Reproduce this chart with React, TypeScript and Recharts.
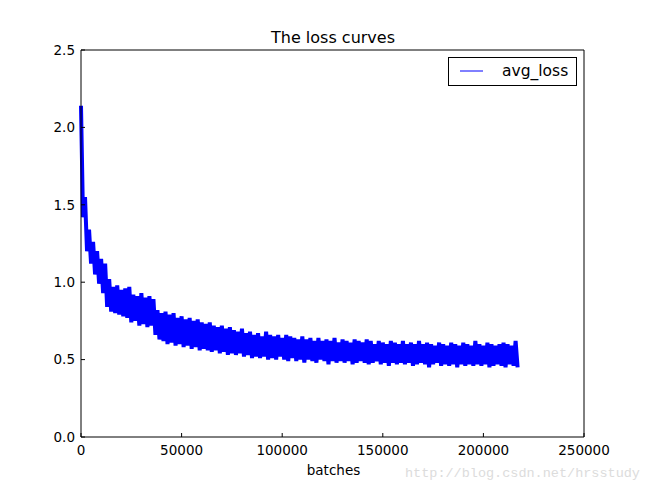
import { LineChart, Line, XAxis, YAxis } from "recharts";

const BATCH_STEP = 1000;
const avgLoss = [
  2.14, 1.42, 1.55, 1.2, 1.34, 1.12, 1.26, 1.05, 1.2, 0.99,
  1.15, 0.93, 1.12, 0.84, 1.02, 0.81, 0.97, 0.8, 0.98, 0.79,
  0.95, 0.78, 0.96, 0.77, 0.97, 0.74, 0.92, 0.75, 0.91, 0.72,
  0.93, 0.73, 0.9, 0.71, 0.91, 0.72, 0.89, 0.66, 0.82, 0.63,
  0.8, 0.62, 0.81, 0.6, 0.79, 0.61, 0.8, 0.59, 0.77, 0.6,
  0.78, 0.58, 0.76, 0.59, 0.77, 0.57, 0.75, 0.58, 0.76, 0.56,
  0.74, 0.57, 0.73, 0.56, 0.74, 0.55, 0.72, 0.56, 0.71, 0.54,
  0.72, 0.55, 0.7, 0.53, 0.71, 0.54, 0.69, 0.53, 0.68, 0.54,
  0.7, 0.52, 0.67, 0.53, 0.68, 0.51, 0.66, 0.52, 0.67, 0.51,
  0.65, 0.52, 0.68, 0.5, 0.66, 0.51, 0.65, 0.5, 0.66, 0.52,
  0.64, 0.5, 0.66, 0.49, 0.65, 0.51, 0.64, 0.49, 0.63, 0.5,
  0.65, 0.48, 0.63, 0.5, 0.64, 0.49, 0.62, 0.48, 0.64, 0.5,
  0.62, 0.49, 0.63, 0.47, 0.62, 0.49, 0.64, 0.48, 0.61, 0.49,
  0.63, 0.48, 0.62, 0.49, 0.61, 0.47, 0.63, 0.48, 0.62, 0.49,
  0.61, 0.48, 0.63, 0.47, 0.62, 0.48, 0.6, 0.49, 0.62, 0.47,
  0.61, 0.48, 0.6, 0.46, 0.62, 0.48, 0.61, 0.47, 0.6, 0.48,
  0.62, 0.47, 0.6, 0.48, 0.61, 0.46, 0.6, 0.47, 0.62, 0.48,
  0.6, 0.47, 0.61, 0.45, 0.6, 0.47, 0.59, 0.48, 0.61, 0.46,
  0.6, 0.47, 0.59, 0.46, 0.61, 0.47, 0.6, 0.45, 0.59, 0.47,
  0.61, 0.46, 0.6, 0.47, 0.59, 0.46, 0.62, 0.47, 0.6, 0.46,
  0.59, 0.47, 0.61, 0.45, 0.6, 0.46, 0.59, 0.47, 0.6, 0.46,
  0.61, 0.45, 0.6, 0.47, 0.59, 0.46, 0.62, 0.45,
];
const xTicks = [0, 50000, 100000, 150000, 200000, 250000];
const yTicks = [0, 0.5, 1.0, 1.5, 2.0, 2.5];

const data = avgLoss.map((v, i) => ({ batch: i * BATCH_STEP, avg_loss: v }));

const FONT = "'DejaVu Sans', sans-serif";
const tickStyle = { fill: "#000", fontSize: 13.5, fontFamily: FONT };

export default function App() {
  return (
    <div style={{ position: "absolute", left: 0, top: 0, width: 650, height: 488, background: "#fff" }}>
      <LineChart
        width={650}
        height={488}
        data={data}
        margin={{ top: 49, right: 65, bottom: 21, left: 41 }}
      >
        <XAxis
          xAxisId="b"
          dataKey="batch"
          type="number"
          domain={[0, 250000]}
          ticks={xTicks}
          interval={0}
          height={30}
          stroke="#000"
          tickSize={-4}
          tickMargin={12}
          tick={tickStyle}
        />
        <XAxis
          xAxisId="t"
          dataKey="batch"
          orientation="top"
          type="number"
          domain={[0, 250000]}
          ticks={xTicks}
          interval={0}
          height={1}
          stroke="#000"
          tickSize={-4}
          tick={false}
        />
        <YAxis
          yAxisId="l"
          type="number"
          domain={[0, 2.5]}
          ticks={yTicks}
          interval={0}
          width={40}
          stroke="#000"
          tickSize={-4}
          tickMargin={10}
          tick={tickStyle}
          tickFormatter={(v) => Number(v).toFixed(1)}
        />
        <YAxis
          yAxisId="r"
          orientation="right"
          type="number"
          domain={[0, 2.5]}
          ticks={yTicks}
          interval={0}
          width={1}
          stroke="#000"
          tickSize={-4}
          tick={false}
        />
        {/* invisible twin so the top/right frame axes get drawn */}
        <Line
          xAxisId="t"
          yAxisId="r"
          type="linear"
          dataKey="avg_loss"
          stroke="none"
          strokeWidth={0}
          dot={false}
          activeDot={false}
          legendType="none"
          isAnimationActive={false}
        />
        <Line
          xAxisId="b"
          yAxisId="l"
          type="linear"
          dataKey="avg_loss"
          name="avg_loss"
          stroke="#0000ff"
          strokeWidth={4}
          strokeLinejoin="bevel"
          dot={false}
          isAnimationActive={false}
        />
      </LineChart>
      <svg
        width={650}
        height={488}
        style={{ position: "absolute", left: 0, top: 0, pointerEvents: "none" }}
        fontFamily={FONT}
      >
        <text x={333} y={43} textAnchor="middle" fontSize={16} fill="#000">
          The loss curves
        </text>
        <text x={333.5} y={475} textAnchor="middle" fontSize={13.5} fill="#000">
          batches
        </text>
        <rect x={448.5} y={57.5} width={128} height={28} fill="#fff" stroke="#000" strokeWidth={1} />
        <line x1={460} y1={71} x2={483} y2={71} stroke="#0000ff" strokeWidth={1} />
        <text x={502} y={76} fontSize={15.5} fill="#000">
          avg_loss
        </text>
        <text x={405} y={477} fontSize={13.5} fill="#dcdcdc" fontFamily="'Liberation Mono', monospace">
          http://blog.csdn.net/hrsstudy
        </text>
      </svg>
    </div>
  );
}
